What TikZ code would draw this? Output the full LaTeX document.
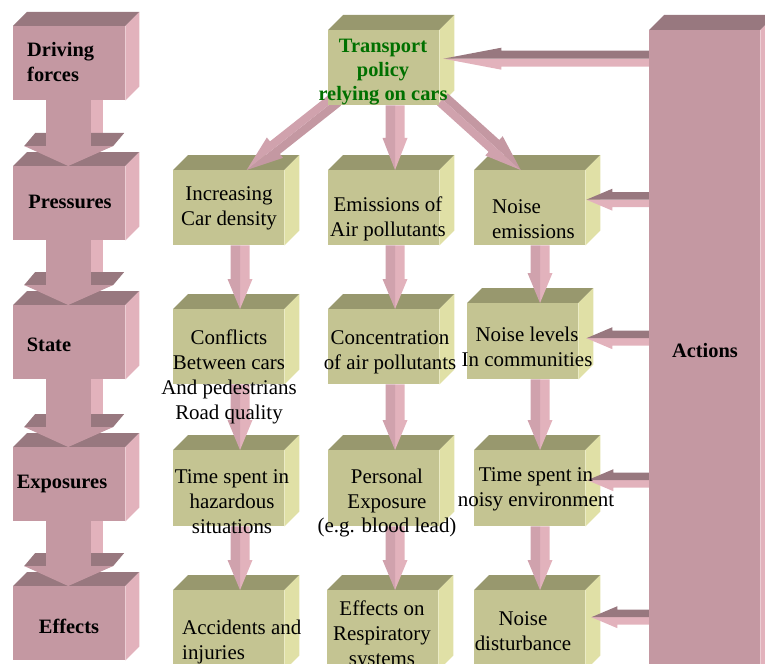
\documentclass[tikz,border=0pt]{standalone}
\usepackage{fontspec}
\setmainfont{Liberation Serif}
\usetikzlibrary{calc}

\definecolor{pinkFront}{RGB}{196,152,162}
\definecolor{pinkTop}{RGB}{152,120,127}
\definecolor{pinkSide}{RGB}{226,178,188}
\definecolor{pinkMid}{RGB}{208,162,173}
\definecolor{oliveFront}{RGB}{196,196,146}
\definecolor{oliveTop}{RGB}{152,152,110}
\definecolor{oliveSide}{RGB}{224,224,166}
\definecolor{policyGreen}{RGB}{0,112,0}

\pgfdeclarelayer{faces}
\pgfdeclarelayer{arrows}
\pgfsetlayers{faces,arrows,main}

\tikzset{
  pinkbox/.style={fill=pinkFront, anchor=north west, inner sep=0pt, minimum width=112bp, minimum height=74bp},
  olivebox/.style={fill=oliveFront, anchor=north west, inner sep=0pt, minimum width=111bp, minimum height=75bp},
  boxtext/.style={inner sep=0pt, align=center, font=\fontsize{21}{25}\selectfont},
  headtext/.style={inner sep=0pt, align=left, font=\fontsize{20.5}{24.5}\selectfont\bfseries},
}

% top and side face of a box node
\newcommand\cubefaces[4]{%
  \begin{pgfonlayer}{faces}
  \fill[#2] (#1.north west) -- ++(#4,-#4) -- ($(#1.north east)+(#4,-#4)$) -- (#1.north east) -- cycle;
  \fill[#3] (#1.north east) -- ++(#4,-#4) -- ($(#1.south east)+(#4,-#4)$) -- (#1.south east) -- cycle;
  \end{pgfonlayer}}

% two-tone block arrow: half width, head half width, head length, colours, tail, tip
\newcommand\blockarrow[7]{%
  \begin{pgfonlayer}{arrows}
  \coordinate (ba) at (#6);
  \coordinate (bt) at (#7);
  \coordinate (bh) at ($(bt)!#3!(ba)$);
  \fill[#4] (ba) -- ($(ba)!#1!90:(bt)$) -- ($(bh)!#1!90:(bt)$) -- ($(bh)!#2!90:(bt)$) -- (bt) -- (bh) -- cycle;
  \fill[#5] (ba) -- ($(ba)!#1!-90:(bt)$) -- ($(bh)!#1!-90:(bt)$) -- ($(bh)!#2!-90:(bt)$) -- (bt) -- (bh) -- cycle;
  \end{pgfonlayer}}

% big arrow of the left column
\newcommand\stagearrow[2]{%
  \begin{pgfonlayer}{arrows}
  \fill[pinkSide] ($(#1.south)+(22,0)$) rectangle ($(#2.north)+(34,-33)$);
  \fill[pinkTop] ($(#2.north)+(-45,-20)$) -- ($(#2.north)+(-34,-33)$) -- ($(#2.north)+(55,-33)$) -- ($(#2.north)+(44,-20)$) -- cycle;
  \fill[pinkFront] ($(#1.south)+(-23,0)$) rectangle ($(#2.north)+(22,-20)$);
  \fill[pinkFront] ($(#2.north)+(-45,-20)$) -- ($(#2.north)+(44,-20)$) -- ($(#2.north)+(-1,0)$) -- cycle;
  \end{pgfonlayer}}

\begin{document}
\begin{tikzpicture}[x=1bp, y=-1bp]
  \useasboundingbox (0,0) rectangle (765,664);

  %Stages
  \node[pinkbox] (drv) at (13,26) {};
  \node[pinkbox] (prs) at (13,166) {};
  \node[pinkbox] (sta) at (13,305) {};
  \node[pinkbox] (exs) at (13,447) {};
  \node[pinkbox] (eff) at (13,586) {};
  \foreach \b in {drv,prs,sta,exs,eff} {\cubefaces{\b}{pinkTop}{pinkSide}{14}}

  \node[pinkbox, minimum width=111bp, minimum height=640bp] (act) at (649,30) {};
  \cubefaces{act}{pinkTop}{pinkSide}{15}

  %Olive boxes
  \node[olivebox] (pol) at (328,30) {};
  \node[olivebox] (car) at (173,170) {};
  \node[olivebox] (emi) at (328,170) {};
  \node[olivebox] (noi) at (474,170) {};
  \node[olivebox] (cnf) at (173,309) {};
  \node[olivebox] (con) at (328,309) {};
  \node[olivebox, minimum height=76bp] (lev) at (467,303) {};
  \node[olivebox, minimum height=76bp] (haz) at (173,450) {};
  \node[olivebox, minimum height=76bp] (per) at (328,450) {};
  \node[olivebox, minimum height=76bp] (nsy) at (474,450) {};
  \node[olivebox, minimum height=80bp] (acc) at (173,590) {};
  \node[olivebox, minimum height=80bp] (res) at (327,590) {};
  \node[olivebox, minimum height=80bp] (dst) at (474,590) {};
  \foreach \b in {pol,car,emi,noi,cnf,con,lev,haz,per,nsy,acc,res,dst} {\cubefaces{\b}{oliveTop}{oliveSide}{15}}

  %Arrows
  \stagearrow{drv}{prs}
  \stagearrow{prs}{sta}
  \stagearrow{sta}{exs}
  \stagearrow{exs}{eff}

  \coordinate (colA) at (240,0);
  \coordinate (colB) at (395,0);
  \coordinate (colC) at (540,0);

  \blockarrow{8bp}{13bp}{36bp}{pinkFront}{pinkMid}{$(pol.south west)+(8,-6)$}{$(car.north)+(18,0)$}
  \blockarrow{9.5bp}{12.5bp}{32bp}{pinkSide}{pinkMid}{colB |- pol.south}{colB |- emi.north}
  \blockarrow{8bp}{13bp}{36bp}{pinkFront}{pinkMid}{$(pol.south east)+(3,-6)$}{$(noi.north)+(-9,0)$}

  \blockarrow{9.5bp}{12.5bp}{30bp}{pinkSide}{pinkMid}{colA |- car.south}{colA |- cnf.north}
  \blockarrow{9.5bp}{12.5bp}{30bp}{pinkSide}{pinkMid}{colA |- cnf.south}{colA |- haz.north}
  \blockarrow{9.5bp}{12.5bp}{30bp}{pinkSide}{pinkMid}{colA |- haz.south}{colA |- acc.north}
  \blockarrow{9.5bp}{12.5bp}{30bp}{pinkSide}{pinkMid}{colB |- emi.south}{colB |- con.north}
  \blockarrow{9.5bp}{12.5bp}{30bp}{pinkSide}{pinkMid}{colB |- con.south}{colB |- per.north}
  \blockarrow{9.5bp}{12.5bp}{30bp}{pinkSide}{pinkMid}{colB |- per.south}{colB |- res.north}
  \blockarrow{9.5bp}{12.5bp}{30bp}{pinkSide}{pinkMid}{colC |- noi.south}{colC |- lev.north}
  \blockarrow{9.5bp}{12.5bp}{30bp}{pinkSide}{pinkMid}{colC |- lev.south}{colC |- nsy.north}
  \blockarrow{9.5bp}{12.5bp}{30bp}{pinkSide}{pinkMid}{colC |- nsy.south}{colC |- dst.north}

  \blockarrow{8bp}{11bp}{58bp}{pinkSide}{pinkTop}{$(act.west |- pol.east)+(6,-9)$}{$(pol.east)+(4,-9)$}
  \blockarrow{7.5bp}{11bp}{26bp}{pinkSide}{pinkTop}{$(act.west |- noi.east)+(6,-8)$}{$(noi.east)+(1,-8)$}
  \blockarrow{7.5bp}{11bp}{26bp}{pinkSide}{pinkTop}{$(act.west |- lev.east)+(6,-3)$}{$(lev.east)+(8,-3)$}
  \blockarrow{7.5bp}{11bp}{26bp}{pinkSide}{pinkTop}{$(act.west |- nsy.east)+(6,-8)$}{$(nsy.east)+(2,-8)$}
  \blockarrow{7.5bp}{11bp}{26bp}{pinkSide}{pinkTop}{$(act.west |- dst.east)+(6,-13)$}{$(dst.east)+(6,-13)$}

  %Labels
  \node[headtext, anchor=west] (drvtext) at (27,62) {Driving\\forces};
  \node[headtext] (prstext) at (70,202) {Pressures};
  \node[headtext] (statext) at (49,345) {State};
  \node[headtext] (exstext) at (62,484) {Exposures};
  \node[headtext] (efftext) at (69,626) {Effects};
  \node[headtext] (acttext) at (705,351) {Actions};

  \node[headtext, align=center, text=policyGreen] (poltext) at (383,72) {Transport\\policy\\relying on cars};
  \node[boxtext] (cartext) at (229,208) {Increasing\\Car density};
  \node[boxtext] (emitext) at (388,219) {Emissions of\\Air pollutants};
  \node[boxtext, align=left, anchor=west] (noitext) at (492,219) {Noise\\emissions};
  \node[boxtext] (cnftext) at (229,377) {Conflicts\\Between cars\\And pedestrians\\Road quality};
  \node[boxtext] (context) at (390,352) {Concentration\\of air pollutants};
  \node[boxtext] (levtext) at (527,347) {Noise levels\\In communities};
  \node[boxtext] (haztext) at (232,502) {Time spent in\\hazardous\\situations};
  \node[boxtext] (pertext) at (387,503) {Personal\\Exposure\\(e.g. blood lead)};
  \node[boxtext] (nsytext) at (536,489) {Time spent in\\noisy environment};
  \node[boxtext, align=left, anchor=west] (acctext) at (182,642) {Accidents and\\ injuries};
  \node[boxtext] (restext) at (382,635) {Effects on\\Respiratory\\systems};
  \node[boxtext] (dsttext) at (523,631) {Noise\\disturbance};
\end{tikzpicture}
\end{document}
